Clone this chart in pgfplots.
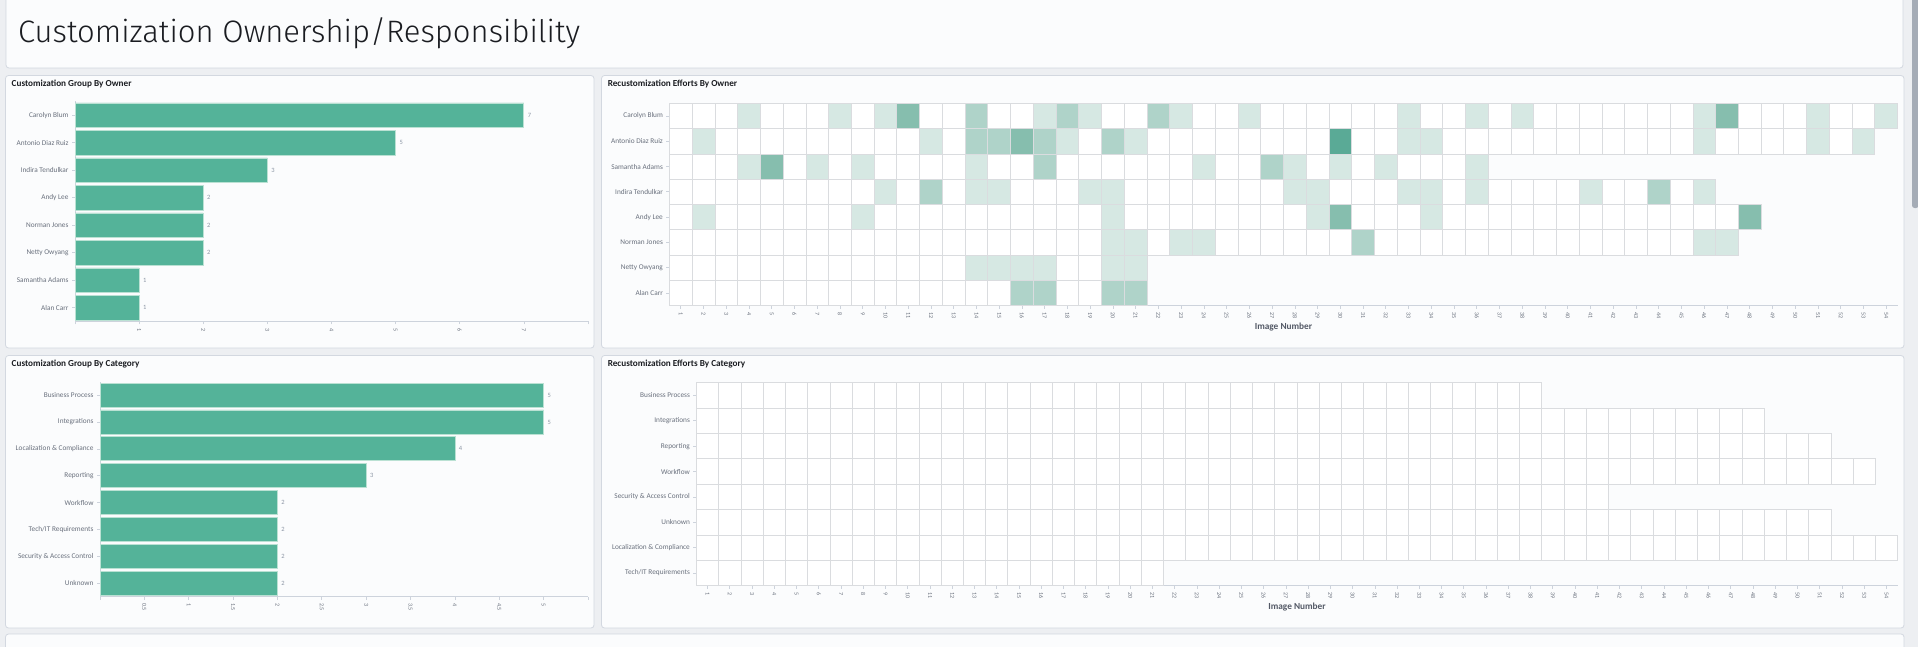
\documentclass[border=0pt]{standalone}
\usepackage{fontspec}
\setmainfont{Carlito}
\newfontfamily\titlefont{Fira Sans Light}
\usepackage{pgfplots}
\usepackage{pgfplotstable}
\pgfplotsset{compat=1.18}

\definecolor{pagebg}{RGB}{237,239,242}
\definecolor{panelbg}{RGB}{251,252,253}
\definecolor{panelborder}{RGB}{211,216,224}
\definecolor{bargreen}{RGB}{84,179,153}
\definecolor{baredge}{RGB}{186,225,211}
\definecolor{labelgray}{RGB}{105,112,125}
\definecolor{axisgray}{RGB}{205,211,220}
\definecolor{cellborder}{RGB}{218,220,223}
\definecolor{titlecol}{RGB}{26,28,33}
\definecolor{valgray}{RGB}{140,150,165}
\definecolor{xlabcol}{RGB}{83,89,102}
\definecolor{thumb}{RGB}{165,172,182}

\newcommand\lab{\fontsize{7.3}{8}\selectfont}
\newcommand\tk{\fontsize{6}{6.5}\selectfont}
\newcommand\ptitle{\fontsize{9.2}{10}\selectfont\bfseries}

\pgfdeclareplotmark{cellA}{\pgfpathrectangle{\pgfpoint{-11.372pt}{-12.65pt}}{\pgfpoint{22.745pt}{25.3pt}}\pgfusepathqfillstroke}
\pgfdeclareplotmark{cellB}{\pgfpathrectangle{\pgfpoint{-11.122pt}{-12.69pt}}{\pgfpoint{22.244pt}{25.375pt}}\pgfusepathqfillstroke}

\pgfplotsset{
  dash/.style={
    scale only axis,
    anchor=north west,
    /pgf/number format/assume math mode=true,
    axis x line*=bottom, axis y line*=left,
    axis line style={axisgray, line width=0.8pt, -},
    tick align=outside,
    major tick length=3pt,
    tick style={axisgray, line width=0.7pt},
    yticklabel style={font=\lab, text=labelgray},
    xticklabel style={font=\tk, text=labelgray, rotate=-90, anchor=west},
    ymin=0.5, ymax=8.5, ytick={1,...,8},
    enlargelimits=false,
  },
  heat/.style={
    dash, clip=false,
    colormap={heatmap}{rgb255=(255,255,255) rgb255=(214,232,227) rgb255=(175,211,201) rgb255=(134,190,174) rgb255=(90,170,150)},
    point meta min=0, point meta max=4,
    xmin=0.5, xmax=54.5, xtick={1,...,54},
    xlabel={Image Number},
    xlabel style={font=\fontsize{9.3}{10}\selectfont\bfseries, text=xlabcol, at={(axis description cs:0.5,0)}, anchor=north, inner sep=0pt, yshift=-17pt},
  },
  cellsA/.style={scatter, only marks, mark=cellA, point meta=explicit,
    scatter/use mapped color={draw=cellborder, fill=mapped color, line width=0.7pt}},
  cellsB/.style={scatter, only marks, mark=cellB, point meta=explicit,
    scatter/use mapped color={draw=cellborder, fill=mapped color, line width=0.7pt}},
  hbar/.style={
    dash, xbar, bar shift=0pt,
  },
  barplot/.style={fill=bargreen, draw=baredge, line width=0.8pt,
    point meta=x, nodes near coords,
    every node near coord/.append style={font=\fontsize{6.5}{7}\selectfont, text=valgray, anchor=west, inner sep=0pt, xshift=3.5pt}},
}

% owner totals (y position 8 = top row)
\pgfplotstableread{
i v
8 7
7 5
6 3
5 2
4 2
3 2
2 1
1 1
}\ownertotals

\pgfplotstableread{
i v
8 5
7 5
6 4
5 3
4 2
3 2
2 2
1 2
}\cattotals

% heatmap by owner: -1 = no cell
\pgfplotstableread{
x Car Ant Sam Ind And Nor Net Ala
1 0 0 0 0 0 0 0 0
2 0 1 0 0 1 0 0 0
3 0 0 0 0 0 0 0 0
4 1 0 1 0 0 0 0 0
5 0 0 3 0 0 0 0 0
6 0 0 0 0 0 0 0 0
7 0 0 1 0 0 0 0 0
8 1 0 0 0 0 0 0 0
9 0 0 1 0 1 0 0 0
10 1 0 0 1 0 0 0 0
11 3 0 0 0 0 0 0 0
12 0 1 0 2 0 0 0 0
13 0 0 0 0 0 0 0 0
14 2 2 1 1 0 0 1 0
15 0 2 0 1 0 0 1 0
16 0 3 0 0 0 0 1 2
17 1 2 2 0 0 0 1 2
18 2 1 0 0 0 0 0 0
19 1 0 0 1 0 0 0 0
20 0 2 0 1 1 1 1 2
21 0 1 0 0 0 1 1 2
22 2 0 0 0 0 0 -1 -1
23 1 0 0 0 0 1 -1 -1
24 0 0 1 0 0 1 -1 -1
25 0 0 0 0 0 0 -1 -1
26 1 0 0 0 0 0 -1 -1
27 0 0 2 0 0 0 -1 -1
28 0 0 1 1 0 0 -1 -1
29 0 0 0 1 1 0 -1 -1
30 0 4 1 0 3 0 -1 -1
31 0 0 0 0 0 2 -1 -1
32 0 0 1 0 0 0 -1 -1
33 1 1 0 1 0 0 -1 -1
34 0 1 0 1 1 0 -1 -1
35 0 0 0 0 0 0 -1 -1
36 1 0 1 1 0 0 -1 -1
37 0 0 -1 0 0 0 -1 -1
38 1 0 -1 0 0 0 -1 -1
39 0 0 -1 0 0 0 -1 -1
40 0 0 -1 0 0 0 -1 -1
41 0 0 -1 1 0 0 -1 -1
42 0 0 -1 0 0 0 -1 -1
43 0 0 -1 0 0 0 -1 -1
44 0 0 -1 2 0 0 -1 -1
45 0 0 -1 0 0 0 -1 -1
46 1 1 -1 1 0 1 -1 -1
47 3 0 -1 -1 0 1 -1 -1
48 0 0 -1 -1 3 -1 -1 -1
49 0 0 -1 -1 -1 -1 -1 -1
50 0 0 -1 -1 -1 -1 -1 -1
51 1 1 -1 -1 -1 -1 -1 -1
52 0 0 -1 -1 -1 -1 -1 -1
53 0 1 -1 -1 -1 -1 -1 -1
54 1 -1 -1 -1 -1 -1 -1 -1
}\owners

% heatmap by category: -1 = no cell
\pgfplotstableread{
x BP Int Rep Wor Sec Unk Loc Tec
1 0 0 0 0 0 0 0 0
2 0 0 0 0 0 0 0 0
3 0 0 0 0 0 0 0 0
4 0 0 0 0 0 0 0 0
5 0 0 0 0 0 0 0 0
6 0 0 0 0 0 0 0 0
7 0 0 0 0 0 0 0 0
8 0 0 0 0 0 0 0 0
9 0 0 0 0 0 0 0 0
10 0 0 0 0 0 0 0 0
11 0 0 0 0 0 0 0 0
12 0 0 0 0 0 0 0 0
13 0 0 0 0 0 0 0 0
14 0 0 0 0 0 0 0 0
15 0 0 0 0 0 0 0 0
16 0 0 0 0 0 0 0 0
17 0 0 0 0 0 0 0 0
18 0 0 0 0 0 0 0 0
19 0 0 0 0 0 0 0 0
20 0 0 0 0 0 0 0 0
21 0 0 0 0 0 0 0 0
22 0 0 0 0 0 0 0 -1
23 0 0 0 0 0 0 0 -1
24 0 0 0 0 0 0 0 -1
25 0 0 0 0 0 0 0 -1
26 0 0 0 0 0 0 0 -1
27 0 0 0 0 0 0 0 -1
28 0 0 0 0 0 0 0 -1
29 0 0 0 0 0 0 0 -1
30 0 0 0 0 0 0 0 -1
31 0 0 0 0 0 0 0 -1
32 0 0 0 0 0 0 0 -1
33 0 0 0 0 0 0 0 -1
34 0 0 0 0 0 0 0 -1
35 0 0 0 0 0 0 0 -1
36 0 0 0 0 0 0 0 -1
37 0 0 0 0 0 0 0 -1
38 0 0 0 0 0 0 0 -1
39 -1 0 0 0 0 0 0 -1
40 -1 0 0 0 0 0 0 -1
41 -1 0 0 0 0 0 0 -1
42 -1 0 0 0 -1 0 0 -1
43 -1 0 0 0 -1 0 0 -1
44 -1 0 0 0 -1 0 0 -1
45 -1 0 0 0 -1 0 0 -1
46 -1 0 0 0 -1 0 0 -1
47 -1 0 0 0 -1 0 0 -1
48 -1 0 0 0 -1 0 0 -1
49 -1 -1 0 0 -1 0 0 -1
50 -1 -1 0 0 -1 0 0 -1
51 -1 -1 0 0 -1 0 0 -1
52 -1 -1 -1 0 -1 -1 0 -1
53 -1 -1 -1 0 -1 -1 0 -1
54 -1 -1 -1 -1 -1 -1 0 -1
}\cats

\begin{document}
\begin{tikzpicture}
\useasboundingbox (0pt,0pt) rectangle (1918pt,-647pt);
\begin{scope}
\clip (0pt,0pt) rectangle (1918pt,-647pt);
\fill[pagebg] (0pt,0pt) rectangle (1918pt,-647pt);
\tikzset{panel/.style={draw=panelborder, fill=panelbg, line width=0.8pt, rounded corners=3pt}}
\draw[panel] (6pt,5pt) rectangle (1903pt,-68pt);
\draw[panel] (5.5pt,-75.5pt) rectangle (594pt,-348pt);
\draw[panel] (601.5pt,-75.5pt) rectangle (1904pt,-348pt);
\draw[panel] (5.5pt,-355.5pt) rectangle (594pt,-628pt);
\draw[panel] (601.5pt,-355.5pt) rectangle (1904pt,-628pt);
\draw[panel] (5.5pt,-634pt) rectangle (1904pt,-700pt);
\fill[thumb, rounded corners=2.5pt] (1912pt,4pt) rectangle (1918.5pt,-208pt);
\end{scope}

\node[anchor=base west, inner sep=0pt, text=titlecol, font=\titlefont\fontsize{31}{36}\selectfont] at (18pt,-42.7pt) {Customization Ownership/Responsibility};

\node[anchor=base west, inner sep=0pt, text=titlecol, font=\ptitle] at (11.5pt,-86.5pt) {Customization Group By Owner};
\node[anchor=base west, inner sep=0pt, text=titlecol, font=\ptitle] at (607.6pt,-86.5pt) {Recustomization Efforts By Owner};
\node[anchor=base west, inner sep=0pt, text=titlecol, font=\ptitle] at (11.5pt,-366.3pt) {Customization Group By Category};
\node[anchor=base west, inner sep=0pt, text=titlecol, font=\ptitle] at (607.6pt,-366.3pt) {Recustomization Efforts By Category};

% --- Customization Group By Owner
\begin{axis}[hbar, at={(75pt,-101.5pt)}, width=513pt, height=220pt,
  bar width=24.5pt,
  xmin=0, xmax=8, xtick={0,...,8}, xticklabels={,1,2,3,4,5,6,7,},
  yticklabels={Alan Carr, Samantha Adams, Netty Owyang, Norman Jones, Andy Lee, Indira Tendulkar, Antonio Diaz Ruiz, Carolyn Blum}]
\addplot[barplot] table[x=v, y=i] {\ownertotals};
\end{axis}

% --- Customization Group By Category
\begin{axis}[hbar, at={(100pt,-381.6pt)}, width=488pt, height=215.2pt,
  bar width=24pt,
  xmin=0, xmax=5.5, xtick={0,0.5,1,1.5,2,2.5,3,3.5,4,4.5,5,5.5},
  xticklabels={,0.5,1,1.5,2,2.5,3,3.5,4,4.5,5,},
  yticklabels={Unknown, Security \& Access Control, Tech/IT Requirements, Workflow, Reporting, Localization \& Compliance, Integrations, Business Process}]
\addplot[barplot] table[x=v, y=i] {\cattotals};
\end{axis}

% --- Recustomization Efforts By Owner
\begin{axis}[heat, at={(669.4pt,-103.3pt)}, width=1228.2pt, height=202.4pt,
  yticklabels={Alan Carr, Netty Owyang, Norman Jones, Andy Lee, Indira Tendulkar, Samantha Adams, Antonio Diaz Ruiz, Carolyn Blum}]
\addplot[cellsA] table[x=x, y expr={\thisrow{Car}<0 ? nan : 8}, meta=Car] {\owners};
\addplot[cellsA] table[x=x, y expr={\thisrow{Ant}<0 ? nan : 7}, meta=Ant] {\owners};
\addplot[cellsA] table[x=x, y expr={\thisrow{Sam}<0 ? nan : 6}, meta=Sam] {\owners};
\addplot[cellsA] table[x=x, y expr={\thisrow{Ind}<0 ? nan : 5}, meta=Ind] {\owners};
\addplot[cellsA] table[x=x, y expr={\thisrow{And}<0 ? nan : 4}, meta=And] {\owners};
\addplot[cellsA] table[x=x, y expr={\thisrow{Nor}<0 ? nan : 3}, meta=Nor] {\owners};
\addplot[cellsA] table[x=x, y expr={\thisrow{Net}<0 ? nan : 2}, meta=Net] {\owners};
\addplot[cellsA] table[x=x, y expr={\thisrow{Ala}<0 ? nan : 1}, meta=Ala] {\owners};
\end{axis}

% --- Recustomization Efforts By Category
\begin{axis}[heat, at={(696.4pt,-382.7pt)}, width=1201.2pt, height=203pt,
  yticklabels={Tech/IT Requirements, Localization \& Compliance, Unknown, Security \& Access Control, Workflow, Reporting, Integrations, Business Process}]
\addplot[cellsB] table[x=x, y expr={\thisrow{BP}<0 ? nan : 8}, meta=BP] {\cats};
\addplot[cellsB] table[x=x, y expr={\thisrow{Int}<0 ? nan : 7}, meta=Int] {\cats};
\addplot[cellsB] table[x=x, y expr={\thisrow{Rep}<0 ? nan : 6}, meta=Rep] {\cats};
\addplot[cellsB] table[x=x, y expr={\thisrow{Wor}<0 ? nan : 5}, meta=Wor] {\cats};
\addplot[cellsB] table[x=x, y expr={\thisrow{Sec}<0 ? nan : 4}, meta=Sec] {\cats};
\addplot[cellsB] table[x=x, y expr={\thisrow{Unk}<0 ? nan : 3}, meta=Unk] {\cats};
\addplot[cellsB] table[x=x, y expr={\thisrow{Loc}<0 ? nan : 2}, meta=Loc] {\cats};
\addplot[cellsB] table[x=x, y expr={\thisrow{Tec}<0 ? nan : 1}, meta=Tec] {\cats};
\end{axis}
\end{tikzpicture}
\end{document}
